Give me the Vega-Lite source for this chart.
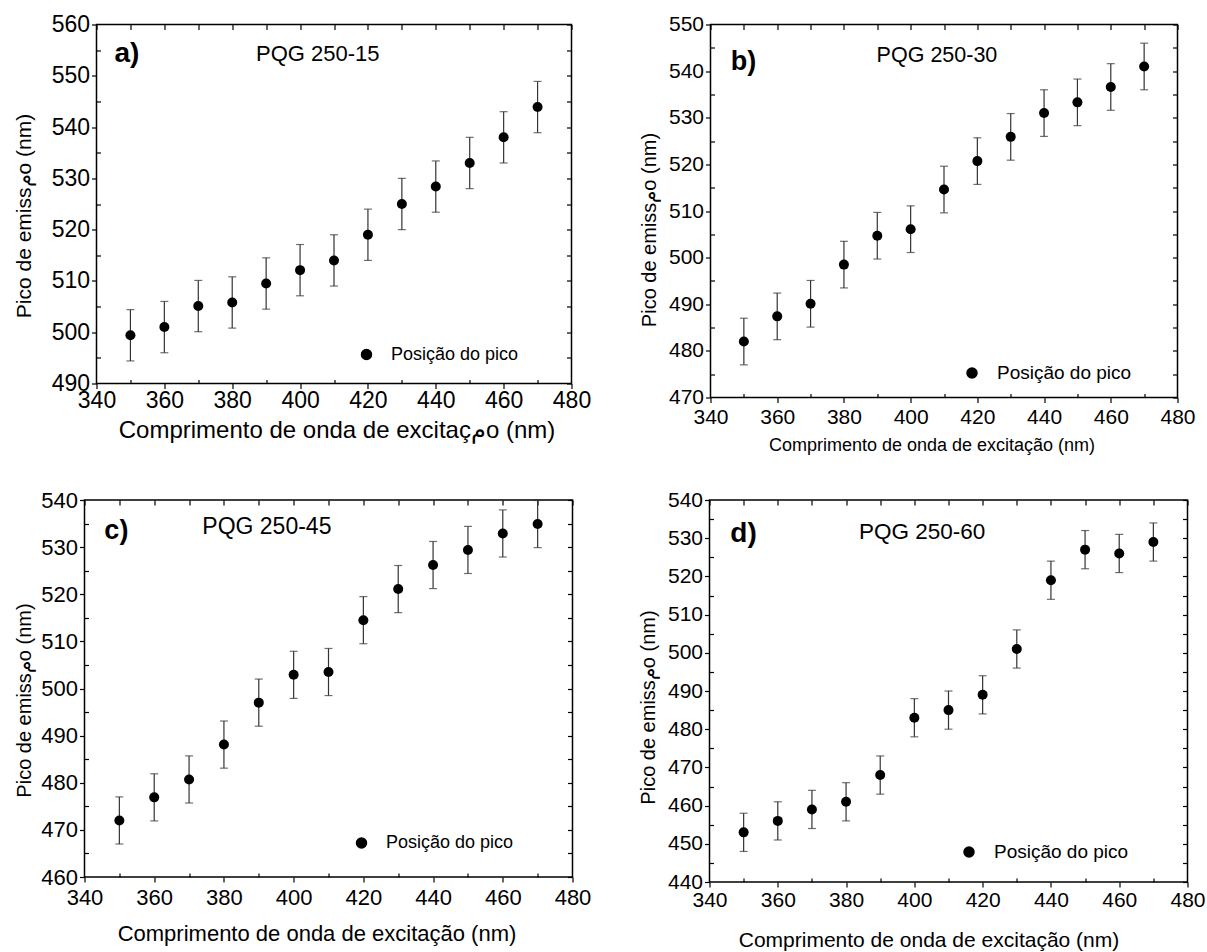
{
  "$schema": "https://vega.github.io/schema/vega-lite/v6.json",
  "autosize": {"type": "pad"},
  "padding": {"left": 12.5, "top": 12.5, "right": 5, "bottom": 0},
  "config": {
    "font": "Liberation Sans",
    "view": {"stroke": "black", "strokeWidth": 1.5},
    "axis": {"grid": false, "domain": false, "tickColor": "black", "tickWidth": 1.2, "labelColor": "black", "titleColor": "black", "titleFontWeight": "normal", "labelFlush": false, "labelOverlap": false, "labelFont": "Liberation Sans", "titleFont": "Liberation Sans"},
    "legend": {"labelColor": "black", "labelFont": "Liberation Sans", "padding": 0, "symbolType": "circle", "symbolSize": 100, "symbolFillColor": "black", "symbolStrokeColor": "black", "labelOffset": 15.5}
  },
  "datasets": {
    "a": [
      {"wl": 350, "pico": 499.4, "err": 5}, {"wl": 360, "pico": 501.0, "err": 5}, {"wl": 370, "pico": 505.1, "err": 5},
      {"wl": 380, "pico": 505.8, "err": 5}, {"wl": 390, "pico": 509.5, "err": 5}, {"wl": 400, "pico": 512.1, "err": 5},
      {"wl": 410, "pico": 514.0, "err": 5}, {"wl": 420, "pico": 519.0, "err": 5}, {"wl": 430, "pico": 525.0, "err": 5},
      {"wl": 440, "pico": 528.4, "err": 5}, {"wl": 450, "pico": 533.0, "err": 5}, {"wl": 460, "pico": 538.0, "err": 5},
      {"wl": 470, "pico": 543.9, "err": 5}
    ],
    "b": [
      {"wl": 350, "pico": 482.0, "err": 5}, {"wl": 360, "pico": 487.4, "err": 5}, {"wl": 370, "pico": 490.1, "err": 5},
      {"wl": 380, "pico": 498.5, "err": 5}, {"wl": 390, "pico": 504.7, "err": 5}, {"wl": 400, "pico": 506.1, "err": 5},
      {"wl": 410, "pico": 514.6, "err": 5}, {"wl": 420, "pico": 520.7, "err": 5}, {"wl": 430, "pico": 525.9, "err": 5},
      {"wl": 440, "pico": 531.0, "err": 5}, {"wl": 450, "pico": 533.3, "err": 5}, {"wl": 460, "pico": 536.6, "err": 5},
      {"wl": 470, "pico": 541.0, "err": 5}
    ],
    "c": [
      {"wl": 350, "pico": 472.0, "err": 5}, {"wl": 360, "pico": 476.9, "err": 5}, {"wl": 370, "pico": 480.7, "err": 5},
      {"wl": 380, "pico": 488.1, "err": 5}, {"wl": 390, "pico": 497.0, "err": 5}, {"wl": 400, "pico": 502.9, "err": 5},
      {"wl": 410, "pico": 503.5, "err": 5}, {"wl": 420, "pico": 514.5, "err": 5}, {"wl": 430, "pico": 521.1, "err": 5},
      {"wl": 440, "pico": 526.2, "err": 5}, {"wl": 450, "pico": 529.4, "err": 5}, {"wl": 460, "pico": 532.9, "err": 5},
      {"wl": 470, "pico": 534.9, "err": 5}
    ],
    "d": [
      {"wl": 350, "pico": 453, "err": 5}, {"wl": 360, "pico": 456, "err": 5}, {"wl": 370, "pico": 459, "err": 5},
      {"wl": 380, "pico": 461, "err": 5}, {"wl": 390, "pico": 468, "err": 5}, {"wl": 400, "pico": 483, "err": 5},
      {"wl": 410, "pico": 485, "err": 5}, {"wl": 420, "pico": 489, "err": 5}, {"wl": 430, "pico": 501, "err": 5},
      {"wl": 440, "pico": 519, "err": 5}, {"wl": 450, "pico": 527, "err": 5}, {"wl": 460, "pico": 526, "err": 5},
      {"wl": 470, "pico": 529, "err": 5}
    ]
  },
  "spacing": 32.5,
  "resolve": {"scale": {"color": "independent"}, "legend": {"color": "independent"}},
  "vconcat": [
    {
      "hconcat": [
        {
          "width": 1, "height": 1,
          "view": {"stroke": null},
          "data": {"values": []},
          "mark": "point",
          "encoding": {}
        },
        {
          "hconcat": [
            {
              "width": 475, "height": 359,
              "layer": [
                {
                  "data": {"name": "a"},
                  "mark": {"type": "errorbar", "thickness": 1.2, "color": "#333333", "ticks": {"size": 8, "thickness": 1.2, "color": "#333333"}},
                  "encoding": {
                    "x": {"field": "wl", "type": "quantitative", "scale": {"domain": [340, 480], "nice": false, "zero": false},
                          "axis": {"orient": "top", "values": [340,350,360,370,380,390,400,410,420,430,440,450,460,470,480], "tickSize": -5, "labels": false, "title": null}},
                    "y": {"field": "pico", "type": "quantitative", "scale": {"domain": [490, 560], "nice": false, "zero": false},
                          "axis": {"orient": "right", "values": [490,495,500,505,510,515,520,525,530,535,540,545,550,555,560], "tickSize": -5, "labels": false, "title": null}},
                    "yError": {"field": "err"}
                  }
                },
                {
                  "data": {"name": "a"},
                  "mark": {"type": "point", "filled": true, "size": 100, "opacity": 1, "shape": "circle"},
                  "encoding": {
                    "x": {"field": "wl", "type": "quantitative",
                          "axis": {"orient": "bottom", "values": [340,360,380,400,420,440,460,480], "tickSize": 5, "labelFontSize": 23, "labelPadding": 1,
                                   "title": "Comprimento de onda de excitaçمo (nm)", "titleFontSize": 24, "titleBaseline": "middle", "titleX": 240, "titleY": 47}},
                    "y": {"field": "pico", "type": "quantitative",
                          "axis": {"orient": "left", "values": [490,500,510,520,530,540,550,560], "tickSize": 5, "labelFontSize": 23, "labelPadding": 2,
                                   "title": "Pico de emissمo (nm)", "titleFontSize": 21, "titleBaseline": "middle", "titleX": -72, "titleY": 191}},
                    "color": {"datum": "Posição do pico", "scale": {"range": ["#000000"]},
                              "legend": {"title": null, "orient": "none", "legendX": 261, "legendY": 321, "labelFontSize": 18}}
                  }
                },
                {
                  "data": {"values": [{}]},
                  "mark": {"type": "text", "text": "a)", "fontSize": 28, "fontWeight": "bold", "align": "left", "baseline": "middle", "color": "black"},
                  "encoding": {
                    "x": {"datum": 345.3, "type": "quantitative",
                          "axis": {"orient": "bottom", "values": [350,370,390,410,430,450,470], "tickSize": -4, "labels": false, "title": null}},
                    "y": {"datum": 554.3, "type": "quantitative",
                          "axis": {"orient": "left", "values": [495,505,515,525,535,545,555], "tickSize": -4, "labels": false, "title": null}}
                  }
                },
                {
                  "data": {"values": [{}]},
                  "mark": {"type": "text", "text": "PQG 250-15", "fontSize": 22, "align": "left", "baseline": "middle", "color": "black"},
                  "encoding": {
                    "x": {"datum": 387.0, "type": "quantitative", "axis": null},
                    "y": {"datum": 554.3, "type": "quantitative", "axis": null}
                  }
                }
              ],
              "resolve": {"axis": {"x": "independent", "y": "independent"}}
            },
            {
              "width": 467, "height": 373,
              "layer": [
                {
                  "data": {"name": "b"},
                  "mark": {"type": "errorbar", "thickness": 1.2, "color": "#333333", "ticks": {"size": 8, "thickness": 1.2, "color": "#333333"}},
                  "encoding": {
                    "x": {"field": "wl", "type": "quantitative", "scale": {"domain": [340, 480], "nice": false, "zero": false},
                          "axis": {"orient": "top", "values": [340,350,360,370,380,390,400,410,420,430,440,450,460,470,480], "tickSize": -5, "labels": false, "title": null}},
                    "y": {"field": "pico", "type": "quantitative", "scale": {"domain": [470, 550], "nice": false, "zero": false},
                          "axis": {"orient": "right", "values": [470,475,480,485,490,495,500,505,510,515,520,525,530,535,540,545,550], "tickSize": -5, "labels": false, "title": null}},
                    "yError": {"field": "err"}
                  }
                },
                {
                  "data": {"name": "b"},
                  "mark": {"type": "point", "filled": true, "size": 100, "opacity": 1, "shape": "circle"},
                  "encoding": {
                    "x": {"field": "wl", "type": "quantitative",
                          "axis": {"orient": "bottom", "values": [340,360,380,400,420,440,460,480], "tickSize": 5, "labelFontSize": 21, "labelPadding": 4,
                                   "title": "Comprimento de onda de excitação (nm)", "titleFontSize": 18, "titleBaseline": "middle", "titleX": 221, "titleY": 48}},
                    "y": {"field": "pico", "type": "quantitative",
                          "axis": {"orient": "left", "values": [470,480,490,500,510,520,530,540,550], "tickSize": 5, "labelFontSize": 21, "labelPadding": 2,
                                   "title": "Pico de emissمo (nm)", "titleFontSize": 20, "titleBaseline": "middle", "titleX": -61, "titleY": 205}},
                    "color": {"datum": "Posição do pico", "scale": {"range": ["#000000"]},
                              "legend": {"title": null, "orient": "none", "legendX": 252, "legendY": 339, "labelFontSize": 19}}
                  }
                },
                {
                  "data": {"values": [{}]},
                  "mark": {"type": "text", "text": "b)", "fontSize": 27, "fontWeight": "bold", "align": "left", "baseline": "middle", "color": "black"},
                  "encoding": {
                    "x": {"datum": 346.1, "type": "quantitative",
                          "axis": {"orient": "bottom", "values": [350,370,390,410,430,450,470], "tickSize": -4, "labels": false, "title": null}},
                    "y": {"datum": 542.0, "type": "quantitative",
                          "axis": {"orient": "left", "values": [475,485,495,505,515,525,535,545], "tickSize": -4, "labels": false, "title": null}}
                  }
                },
                {
                  "data": {"values": [{}]},
                  "mark": {"type": "text", "text": "PQG 250-30", "fontSize": 21.5, "align": "left", "baseline": "middle", "color": "black"},
                  "encoding": {
                    "x": {"datum": 389.8, "type": "quantitative", "axis": null},
                    "y": {"datum": 543.2, "type": "quantitative", "axis": null}
                  }
                }
              ],
              "resolve": {"axis": {"x": "independent", "y": "independent"}}
            }
          ],
          "spacing": 139,
          "bounds": "flush",
          "resolve": {"scale": {"color": "independent"}, "legend": {"color": "independent"}}
        }
      ],
      "spacing": 11,
      "bounds": "flush",
      "resolve": {"scale": {"color": "independent"}, "legend": {"color": "independent"}}
    },
    {
      "hconcat": [
        {
          "width": 488, "height": 377,
          "layer": [
            {
              "data": {"name": "c"},
              "mark": {"type": "errorbar", "thickness": 1.2, "color": "#333333", "ticks": {"size": 8, "thickness": 1.2, "color": "#333333"}},
              "encoding": {
                "x": {"field": "wl", "type": "quantitative", "scale": {"domain": [340, 480], "nice": false, "zero": false},
                      "axis": {"orient": "top", "values": [340,350,360,370,380,390,400,410,420,430,440,450,460,470,480], "tickSize": -5, "labels": false, "title": null}},
                "y": {"field": "pico", "type": "quantitative", "scale": {"domain": [460, 540], "nice": false, "zero": false},
                      "axis": {"orient": "right", "values": [460,465,470,475,480,485,490,495,500,505,510,515,520,525,530,535,540], "tickSize": -5, "labels": false, "title": null}},
                "yError": {"field": "err"}
              }
            },
            {
              "data": {"name": "c"},
              "mark": {"type": "point", "filled": true, "size": 100, "opacity": 1, "shape": "circle"},
              "encoding": {
                "x": {"field": "wl", "type": "quantitative",
                      "axis": {"orient": "bottom", "values": [340,360,380,400,420,440,460,480], "tickSize": 5, "labelFontSize": 22, "labelPadding": 5,
                               "title": "Comprimento de onda de excitação (nm)", "titleFontSize": 22, "titleBaseline": "middle", "titleX": 232, "titleY": 56}},
                "y": {"field": "pico", "type": "quantitative",
                      "axis": {"orient": "left", "values": [460,470,480,490,500,510,520,530,540], "tickSize": 5, "labelFontSize": 22, "labelPadding": 2,
                               "title": "Pico de emissمo (nm)", "titleFontSize": 20, "titleBaseline": "middle", "titleX": -60.5, "titleY": 200}},
                "color": {"datum": "Posição do pico", "scale": {"range": ["#000000"]},
                          "legend": {"title": null, "orient": "none", "legendX": 268, "legendY": 334, "labelFontSize": 18}}
              }
            },
            {
              "data": {"values": [{}]},
              "mark": {"type": "text", "text": "c)", "fontSize": 27, "fontWeight": "bold", "align": "left", "baseline": "middle", "color": "black"},
              "encoding": {
                "x": {"datum": 345.7, "type": "quantitative",
                      "axis": {"orient": "bottom", "values": [350,370,390,410,430,450,470], "tickSize": -4, "labels": false, "title": null}},
                "y": {"datum": 533.5, "type": "quantitative",
                      "axis": {"orient": "left", "values": [465,475,485,495,505,515,525,535], "tickSize": -4, "labels": false, "title": null}}
              }
            },
            {
              "data": {"values": [{}]},
              "mark": {"type": "text", "text": "PQG 250-45", "fontSize": 23, "align": "left", "baseline": "middle", "color": "black"},
              "encoding": {
                "x": {"datum": 373.8, "type": "quantitative", "axis": null},
                "y": {"datum": 534.2, "type": "quantitative", "axis": null}
              }
            }
          ],
          "resolve": {"axis": {"x": "independent", "y": "independent"}}
        },
        {
          "width": 478, "height": 382,
          "layer": [
            {
              "data": {"name": "d"},
              "mark": {"type": "errorbar", "thickness": 1.2, "color": "#333333", "ticks": {"size": 8, "thickness": 1.2, "color": "#333333"}},
              "encoding": {
                "x": {"field": "wl", "type": "quantitative", "scale": {"domain": [340, 480], "nice": false, "zero": false},
                      "axis": {"orient": "top", "values": [340,350,360,370,380,390,400,410,420,430,440,450,460,470,480], "tickSize": -5, "labels": false, "title": null}},
                "y": {"field": "pico", "type": "quantitative", "scale": {"domain": [440, 540], "nice": false, "zero": false},
                      "axis": {"orient": "right", "values": [440,445,450,455,460,465,470,475,480,485,490,495,500,505,510,515,520,525,530,535,540], "tickSize": -5, "labels": false, "title": null}},
                "yError": {"field": "err"}
              }
            },
            {
              "data": {"name": "d"},
              "mark": {"type": "point", "filled": true, "size": 100, "opacity": 1, "shape": "circle"},
              "encoding": {
                "x": {"field": "wl", "type": "quantitative",
                      "axis": {"orient": "bottom", "values": [340,360,380,400,420,440,460,480], "tickSize": 5, "labelFontSize": 21, "labelPadding": 2.5,
                               "title": "Comprimento de onda de excitação (nm)", "titleFontSize": 21, "titleBaseline": "middle", "titleX": 219, "titleY": 58}},
                "y": {"field": "pico", "type": "quantitative",
                      "axis": {"orient": "left", "values": [440,450,460,470,480,490,500,510,520,530,540], "tickSize": 5, "labelFontSize": 21, "labelPadding": 2,
                               "title": "Pico de emissمo (nm)", "titleFontSize": 20, "titleBaseline": "middle", "titleX": -61, "titleY": 207}},
                "color": {"datum": "Posição do pico", "scale": {"range": ["#000000"]},
                          "legend": {"title": null, "orient": "none", "legendX": 250, "legendY": 342.5, "labelFontSize": 19}}
              }
            },
            {
              "data": {"values": [{}]},
              "mark": {"type": "text", "text": "d)", "fontSize": 28, "fontWeight": "bold", "align": "left", "baseline": "middle", "color": "black"},
              "encoding": {
                "x": {"datum": 346.1, "type": "quantitative",
                      "axis": {"orient": "bottom", "values": [350,370,390,410,430,450,470], "tickSize": -4, "labels": false, "title": null}},
                "y": {"datum": 531.2, "type": "quantitative",
                      "axis": {"orient": "left", "values": [445,455,465,475,485,495,505,515,525,535], "tickSize": -4, "labels": false, "title": null}}
              }
            },
            {
              "data": {"values": [{}]},
              "mark": {"type": "text", "text": "PQG 250-60", "fontSize": 22.5, "align": "left", "baseline": "middle", "color": "black"},
              "encoding": {
                "x": {"datum": 383.8, "type": "quantitative", "axis": null},
                "y": {"datum": 531.7, "type": "quantitative", "axis": null}
              }
            }
          ],
          "resolve": {"axis": {"x": "independent", "y": "independent"}}
        }
      ],
      "spacing": 137,
      "bounds": "flush",
      "resolve": {"scale": {"color": "independent"}, "legend": {"color": "independent"}}
    }
  ]
}
